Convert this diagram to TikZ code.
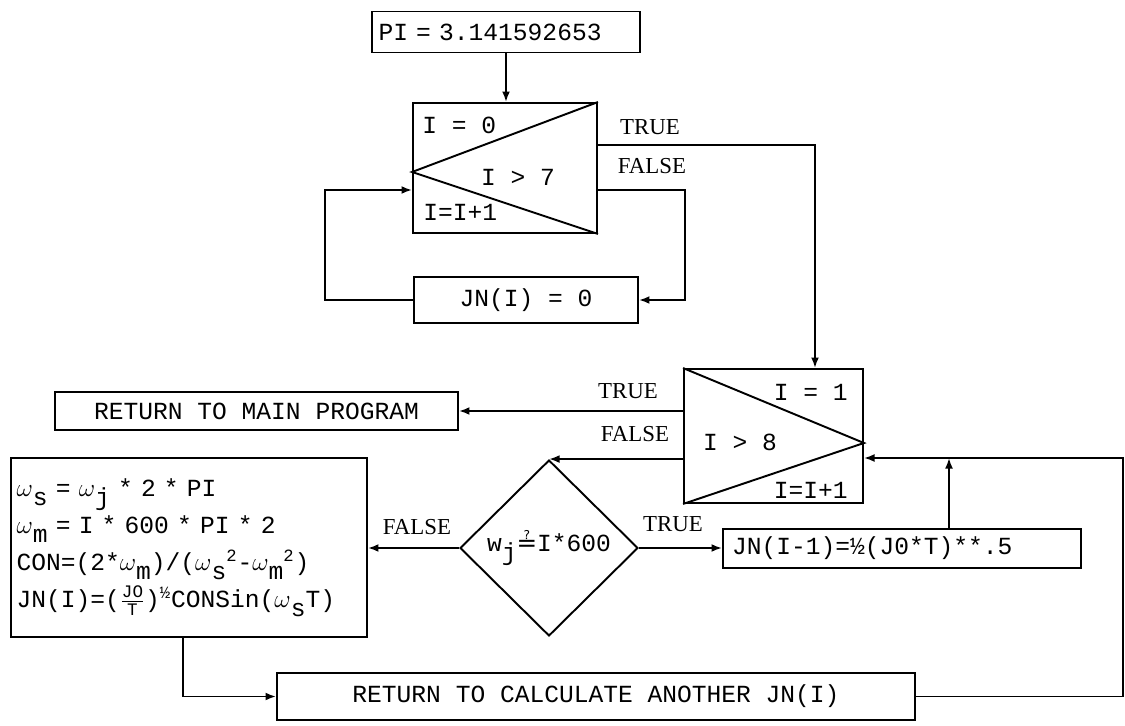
\documentclass[tikz,border=0pt]{standalone}
\usepackage{fontspec}
\setmainfont{Liberation Serif}
\newfontfamily\typew{Liberation Mono}
\newfontfamily\symb{DejaVu Sans}
\usetikzlibrary{arrows.meta, positioning, shapes.geometric}
\newcommand{\subt}[1]{\raisebox{-5pt}{#1}}
\newcommand{\smalltw}[1]{\mbox{\typew\fontsize{10}{10}\selectfont #1}}

\begin{document}
\begin{tikzpicture}[
    x=0.02cm, y=-0.02cm,
    box/.style={draw, rectangle, line width=1.1pt, inner sep=3pt,
        font=\typew\fontsize{14}{17}\selectfont},
    txt/.style={inner sep=0pt, font=\typew\fontsize{14}{17}\selectfont},
    lbl/.style={inner sep=0pt, font=\fontsize{13}{15}\selectfont},
    wire/.style={line width=1.1pt},
    arrow/.style={-{Latex[length=6pt,width=4.5pt]}, line width=1.1pt}
]
\useasboundingbox (0,0) rectangle (1125,726);

% first loop: clear JN
\node[box, minimum width=5.36cm, minimum height=0.82cm, text width=5.1cm, align=left] (pi) at (506,32) {PI = 3.141592653};
\node[box, minimum width=3.68cm, minimum height=2.6cm] (loop1) at (505,168) {};
\draw[wire] (loop1.north east) -- ([yshift=-0.08cm]loop1.west) -- (loop1.south east);
\node[txt, anchor=west] (init1) at (422,125) {I = 0};
\node[txt] (test1) at (518,177) {I > 7};
\node[txt, anchor=west] (incr1) at (423,212) {I=I+1};
\node[box, minimum width=4.48cm, minimum height=0.92cm] (jn0) at (526,300) {JN(I) = 0};

% second loop
\node[box, minimum width=3.58cm, minimum height=2.68cm] (loop2) at (773.5,436) {};
\draw[wire] (loop2.north west) -- ([yshift=-0.14cm]loop2.east) -- (loop2.south west);
\node[txt, anchor=east] (init2) at (848,392) {I = 1};
\node[txt] (test2) at (740,442) {I > 8};
\node[txt, anchor=east] (incr2) at (848,490) {I=I+1};

\node[box, minimum width=8.06cm, minimum height=0.76cm] (main) at (256.5,411) {RETURN TO MAIN PROGRAM};
\node[box, minimum width=7.12cm, minimum height=3.58cm, text width=6.9cm, align=left,
    font=\typew\fontsize{14}{21}\selectfont] (form) at (189,547.5) {%
    $\omega$\subt{s} = $\omega$\subt{j} * 2 * PI\\
    $\omega$\subt{m} = I * 600 * PI * 2\\
    CON=(2*$\omega$\subt{m})/($\omega$\subt{s}\textsuperscript{2}-$\omega$\subt{m}\textsuperscript{2})\\
    JN(I)=($\frac{\smalltw{JO}}{\smalltw{T}}$)\textsuperscript{½}CONSin($\omega$\subt{s}T)};
\node[draw, diamond, line width=1.1pt, minimum width=3.56cm, minimum height=3.52cm, txt] (dia) at (549,548) {w\subt{j}{\symb ≟}I*600};
\node[box, minimum width=7.16cm, minimum height=0.78cm, text width=6.8cm, align=left] (jn1) at (902,548.5) {JN(I-1)=½(J0*T)**.5};
\node[box, minimum width=12.76cm, minimum height=0.94cm] (calc) at (596,696.5) {RETURN TO CALCULATE ANOTHER JN(I)};

% branch labels
\node[lbl] (t1) at (650,127) {TRUE};
\node[lbl] (f1) at (652,166) {FALSE};
\node[lbl] (t2) at (628,391) {TRUE};
\node[lbl] (f2) at (635,434) {FALSE};
\node[lbl] (f3) at (417,527) {FALSE};
\node[lbl] (t3) at (673,524) {TRUE};

\coordinate (c1) at (815,145);
\coordinate (c2) at (685,190);
\coordinate (c3) at (325,190);
\coordinate (c4) at (949,458);
\coordinate (c5) at (1123,458);
\coordinate (c6) at (183,696.5);

\draw[arrow] (pi.south) -- (pi.south |- loop1.north);
\draw[arrow] (loop1.east |- c1) -- (c1) -- (c1 |- loop2.north);
\draw[arrow] (loop1.east |- c2) -- (c2) |- (jn0.east);
\draw[arrow] (jn0.west) -| (c3) -- (loop1.west |- c3);
\draw[arrow] (loop2.west |- main.east) -- (main.east);
\draw[arrow] (loop2.west |- dia.north) -- (dia.north);
\draw[arrow] (dia.west) -- (dia.west -| form.east);
\draw[arrow] (dia.east) -- (dia.east -| jn1.west);
\draw[arrow] (jn1.north -| c4) -- (c4);
\draw[arrow] (calc.east) -| (c5) -- (loop2.east |- c5);
\draw[arrow] (form.south -| c6) -- (c6) -- (calc.west);
\end{tikzpicture}
\end{document}
